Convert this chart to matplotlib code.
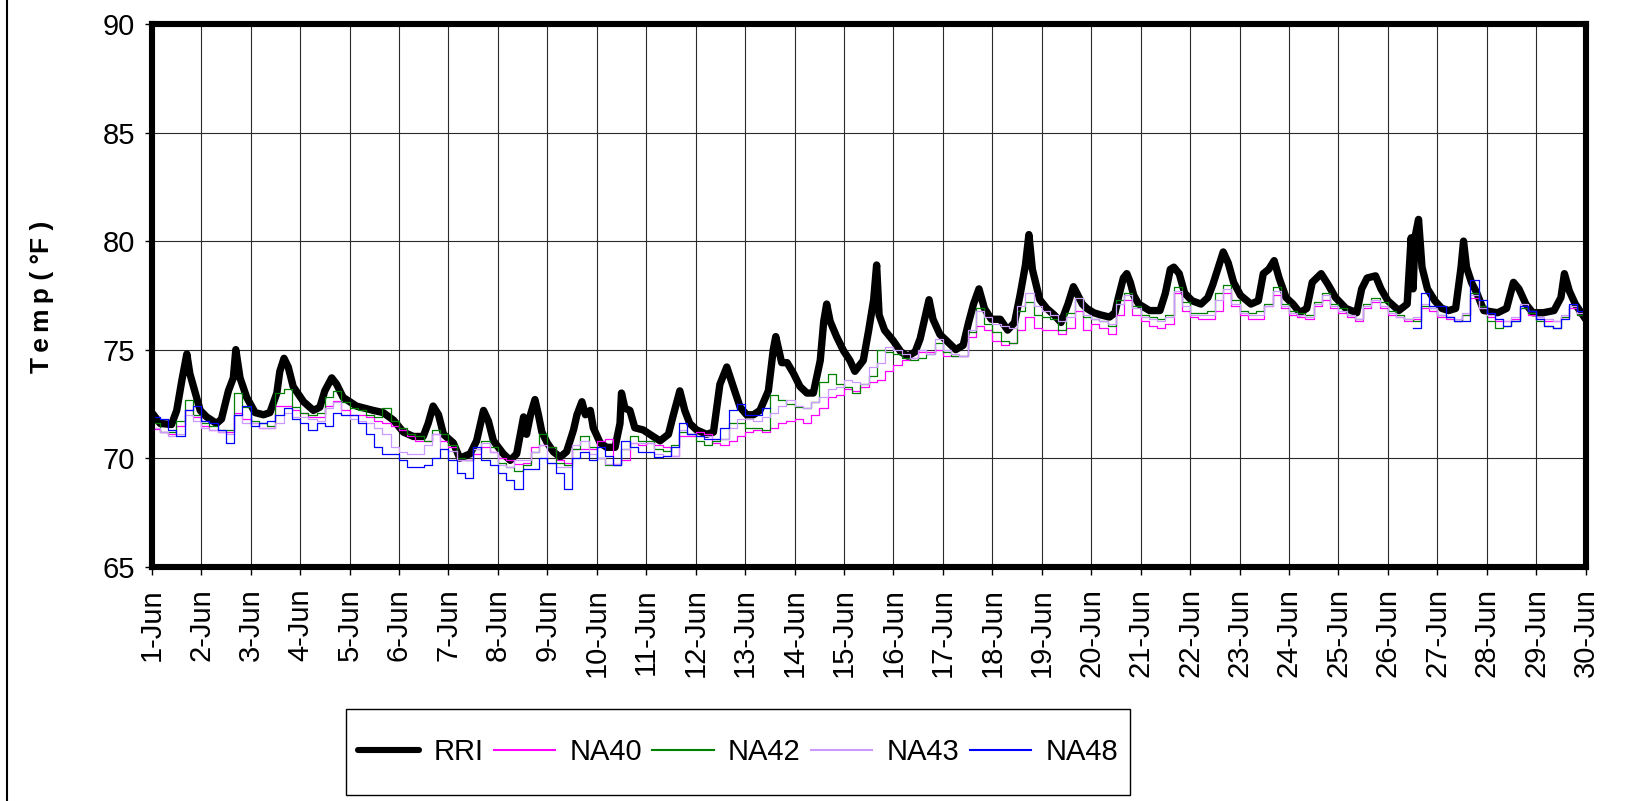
import numpy as np
import matplotlib.pyplot as plt
from matplotlib.lines import Line2D
from matplotlib.patches import Rectangle

plt.rcParams['font.family'] = ['Liberation Sans', 'DejaVu Sans']

# RRI: readings as (day since 1-Jun 00:00, temp F)
rri_day = [0.00, 0.17, 0.40, 0.505, 0.61, 0.71, 0.77, 0.88, 0.98, 1.11, 1.31, 1.41, 1.55, 1.65, 1.70,
           1.785, 1.92, 2.09, 2.26, 2.39, 2.53, 2.59, 2.675, 2.76, 2.86, 3.07, 3.27, 3.40, 3.50, 3.64,
           3.74, 3.87, 4.14, 4.48, 4.68, 4.89, 5.09, 5.29, 5.49, 5.59, 5.69, 5.80, 5.90, 6.10, 6.23,
           6.44, 6.57, 6.71, 6.81, 6.91, 7.11, 7.25, 7.38, 7.52, 7.58, 7.66, 7.75, 7.82, 7.89, 8.00,
           8.12, 8.26, 8.39, 8.53, 8.60, 8.70, 8.77, 8.87, 8.93, 9.07, 9.20, 9.37, 9.47, 9.50, 9.57,
           9.67, 9.77, 9.94, 10.14, 10.28, 10.45, 10.55, 10.68, 10.78, 10.88, 11.02, 11.22, 11.36,
           11.49, 11.63, 11.76, 11.90, 12.03, 12.17, 12.30, 12.47, 12.57, 12.62, 12.74, 12.85, 12.98,
           13.11, 13.25, 13.38, 13.52, 13.59, 13.65, 13.72, 13.85, 13.99, 14.12, 14.22, 14.39, 14.50,
           14.60, 14.66, 14.71, 14.82, 15.00, 15.15, 15.29, 15.44, 15.54, 15.65, 15.72, 15.80, 15.94,
           16.08, 16.26, 16.41, 16.52, 16.62, 16.73, 16.84, 16.98, 17.16, 17.31, 17.45, 17.56, 17.67,
           17.74, 17.81, 17.96, 18.10, 18.25, 18.39, 18.53, 18.64, 18.71, 18.82, 18.91, 19.05, 19.19,
           19.37, 19.48, 19.55, 19.65, 19.72, 19.79, 19.86, 19.96, 20.18, 20.39, 20.50, 20.60, 20.67,
           20.78, 20.89, 21.04, 21.22, 21.36, 21.46, 21.60, 21.67, 21.77, 21.88, 22.02, 22.23, 22.38,
           22.48, 22.59, 22.70, 22.80, 22.94, 23.08, 23.22, 23.36, 23.47, 23.65, 23.79, 23.94, 24.15,
           24.37, 24.47, 24.58, 24.75, 24.86, 25.00, 25.22, 25.39, 25.47, 25.51, 25.55, 25.62, 25.69,
           25.80, 25.95, 26.09, 26.23, 26.37, 26.48, 26.53, 26.59, 26.69, 26.80, 26.94, 27.22, 27.40,
           27.54, 27.65, 27.79, 27.93, 28.14, 28.36, 28.50, 28.57, 28.67, 28.79, 29.00]
rri_temp = [72.1, 71.6, 71.55, 72.2, 73.6, 74.8, 73.9, 73.0, 72.2, 71.9, 71.6, 71.8, 73.1, 73.7, 75.0,
            73.7, 72.8, 72.1, 72.0, 72.1, 73.0, 74.0, 74.6, 74.2, 73.3, 72.6, 72.2, 72.35, 73.1, 73.7,
            73.4, 72.8, 72.4, 72.2, 72.1, 71.75, 71.2, 71.0, 71.0, 71.6, 72.4, 72.0, 71.1, 70.7, 70.0,
            70.2, 70.8, 72.2, 71.7, 70.8, 70.2, 69.9, 70.2, 71.9, 71.1, 72.0, 72.7, 72.0, 71.2, 70.7,
            70.3, 70.05, 70.3, 71.3, 72.0, 72.6, 72.0, 72.2, 71.4, 70.7, 70.5, 70.5, 71.6, 73.0, 72.3,
            72.2, 71.4, 71.3, 71.0, 70.8, 71.1, 72.0, 73.1, 72.2, 71.6, 71.3, 71.1, 71.2,
            73.4, 74.2, 73.3, 72.35, 72.0, 72.0, 72.2, 73.1, 75.0, 75.6, 74.4, 74.4, 73.9,
            73.3, 73.0, 73.0, 74.5, 76.3, 77.1, 76.3, 75.6, 74.95, 74.5, 74.0, 74.5, 75.9,
            77.3, 78.9, 76.6, 75.9, 75.4, 74.9, 74.7, 74.9, 75.5, 76.6, 77.3, 76.4, 75.7,
            75.4, 75.0, 75.2, 76.25, 77.1, 77.8, 76.9, 76.4, 76.4, 75.9, 76.25, 77.5, 78.9,
            80.3, 78.7, 77.3, 76.9, 76.6, 76.25, 77.1, 77.9, 77.6, 77.1, 76.9, 76.7, 76.6,
            76.5, 76.7, 77.4, 78.3, 78.5, 78.1, 77.5, 77.1, 76.8, 76.8, 77.6, 78.7, 78.8,
            78.5, 77.6, 77.25, 77.1, 77.4, 78.0, 79.0, 79.5, 79.0, 78.1, 77.5, 77.1, 77.25,
            78.5, 78.7, 79.1, 78.3, 77.4, 77.1, 76.7, 76.9, 78.1, 78.5, 78.0, 77.4, 76.9,
            76.7, 77.8, 78.3, 78.4, 77.8, 77.25, 76.8, 77.1, 80.15, 77.8, 80.2, 81.0, 78.8,
            77.8, 77.25, 76.9, 76.8, 76.9, 78.8, 80.0, 78.8, 78.1, 77.6, 76.8, 76.7, 76.9,
            78.1, 77.8, 77.1, 76.7, 76.7, 76.8, 77.4, 78.5, 77.7, 77.1, 76.4]

# loggers, one value every 4 hours (six per day) from 1-Jun 00:00 to 30-Jun 00:00
na40 = [71.35, 71.2, 71.1, 71.5, 72.2, 71.9,
        71.5, 71.3, 71.2, 71.2, 72.1, 71.8,
        71.6, 71.4, 71.4, 72.4, 72.4, 72.2,
        72.1, 71.9, 71.9, 72.4, 72.65, 72.2,
        72.0, 72.0, 71.9, 71.7, 71.6, 71.5,
        71.3, 71.0, 70.8, 70.8, 71.1, 70.8,
        70.5, 69.9, 69.9, 70.2, 70.5, 70.3,
        70.0, 69.9, 69.75, 69.8, 70.5, 70.6,
        70.5, 69.9, 69.8, 70.4, 70.4, 70.4,
        70.8, 70.9, 69.75, 69.9, 70.7, 70.6,
        70.7, 70.6, 70.5, 70.1, 71.0, 71.0,
        71.2, 71.1, 70.7, 70.6, 70.8, 71.0,
        71.2, 71.3, 71.2, 71.4, 71.6, 71.7,
        71.8, 71.6, 72.0, 72.3, 72.8, 72.9,
        73.2, 73.1, 73.3, 73.5, 73.6, 74.0,
        74.3, 74.5, 74.6, 74.9, 74.9, 75.0,
        74.7, 74.7, 74.7, 75.6, 76.1, 75.9,
        75.4, 75.2, 75.3, 75.9, 76.5, 76.0,
        75.9, 75.9, 75.7, 76.0, 76.8, 75.9,
        76.2, 76.0, 75.7, 76.6, 77.3, 76.6,
        76.3, 76.1, 76.0, 76.2, 77.6, 76.8,
        76.5, 76.4, 76.4, 76.8, 77.6, 77.0,
        76.6, 76.4, 76.4, 77.0, 77.5, 76.9,
        76.6, 76.5, 76.4, 77.0, 77.3, 76.9,
        76.7, 76.5, 76.3, 76.9, 77.2, 76.9,
        76.6, 76.5, 76.3, 76.4, 76.9, 76.8,
        76.5, 76.4, 76.3, 76.6, 77.4, 76.9,
        76.5, 76.3, 76.3, 76.4, 76.9, 76.6,
        76.4, 76.3, 76.3, 76.5, 76.9, 76.6,
        76.2]

na42 = [71.6, 71.2, 71.2, 71.7, 72.7, 72.0,
        71.6, 71.5, 71.3, 71.3, 73.0, 72.35,
        71.7, 71.6, 71.5, 73.0, 73.2, 72.35,
        72.1, 72.0, 72.1, 72.8, 73.1, 72.6,
        72.3, 72.2, 72.0, 71.9, 72.3, 71.7,
        71.4, 71.1, 71.0, 70.8, 71.3, 71.1,
        70.6, 70.0, 69.9, 70.4, 70.8, 70.5,
        69.8, 69.6, 69.4, 69.7, 70.3, 71.1,
        70.5, 69.8, 69.7, 70.4, 71.0, 70.5,
        70.0, 69.7, 69.7, 70.4, 71.0, 70.8,
        70.8, 70.4, 70.35, 70.6, 71.2, 71.1,
        70.8, 70.6, 70.8, 70.9, 71.6, 71.6,
        71.4, 71.4, 71.3, 72.9, 72.7, 72.5,
        72.35, 72.3, 72.6, 73.5, 73.9, 73.4,
        73.3, 73.0, 73.4, 73.8, 75.0, 74.9,
        74.8, 74.6, 74.5, 74.6, 74.8, 75.3,
        74.9, 74.7, 74.7, 75.8, 76.9, 76.2,
        75.8, 75.4, 75.3, 76.8, 77.2, 76.6,
        76.5, 76.4, 75.9, 76.7, 77.4, 76.5,
        76.4, 76.3, 76.1, 77.3, 77.6, 77.0,
        76.6, 76.5, 76.4, 76.6, 77.9, 77.2,
        76.7, 76.7, 76.8, 77.6, 78.0, 77.3,
        76.8, 76.7, 76.8, 77.1, 77.9, 77.1,
        76.8, 76.7, 76.6, 77.2, 77.6, 77.1,
        76.9, 76.6, 76.4, 77.1, 77.4, 77.2,
        76.8, 76.6, 76.4, 76.3, 77.0, 76.9,
        76.6, 76.5, 76.3, 76.6, 77.6, 77.0,
        76.3, 76.0, 76.1, 76.3, 76.9, 76.7,
        76.3, 76.1, 76.0, 76.5, 77.0, 76.6,
        76.3]

na43 = [71.4, 71.2, 71.0, 71.1, 72.0, 71.7,
        71.4, 71.3, 71.2, 71.1, 72.0, 71.6,
        71.6, 71.4, 71.4, 71.6, 72.1, 71.9,
        71.9, 71.8, 71.7, 72.3, 72.6, 72.0,
        71.8, 71.7, 71.6, 71.4, 71.1, 70.5,
        70.3, 70.2, 70.2, 70.6, 71.1, 70.4,
        70.35, 69.9, 69.9, 70.4, 70.7, 70.3,
        69.7, 69.6, 69.9, 69.9, 70.3, 70.6,
        69.8, 69.6, 69.6, 70.6, 70.8, 70.2,
        70.0, 69.75, 69.75, 70.4, 70.7, 70.7,
        70.7, 70.2, 70.1, 70.1, 71.3, 71.1,
        71.0, 71.0, 70.9, 70.9, 71.4, 71.8,
        71.8, 71.7, 71.9, 72.1, 72.4, 72.7,
        72.4, 72.3, 72.6, 72.8, 73.2, 73.3,
        73.6, 73.5, 73.4, 74.2, 74.4, 75.1,
        75.0, 74.8, 74.6, 75.0, 74.8, 75.5,
        75.0, 74.8, 74.7, 75.9, 76.8, 76.5,
        76.2, 76.1, 76.0, 77.0, 77.6, 77.0,
        76.8, 76.6, 76.3, 76.5, 77.4, 76.6,
        76.4, 76.3, 76.2, 77.1, 77.5, 76.9,
        76.5, 76.4, 76.3, 76.5, 77.7, 77.0,
        76.6, 76.6, 76.6, 77.3, 77.8, 77.1,
        76.7, 76.6, 76.6, 77.0, 77.7, 77.0,
        76.7, 76.6, 76.5, 77.1, 77.5, 77.0,
        76.8, 76.6, 76.4, 77.0, 77.3, 77.0,
        76.7, 76.5, 76.4, 76.5, 77.1, 76.9,
        76.6, 76.5, 76.4, 76.7, 77.5, 76.9,
        76.6, 76.4, 76.3, 76.5, 77.1, 76.8,
        76.5, 76.4, 76.3, 76.6, 77.0, 76.7,
        76.3]

nan = np.nan
na48 = [71.9, 71.8, 71.3, 71.0, 72.2, 72.4,
        71.7, 71.6, 71.3, 70.7, 72.0, 72.4,
        71.5, 71.6, 71.7, 72.0, 72.3, 71.8,
        71.6, 71.3, 71.6, 71.5, 72.1, 72.0,
        72.0, 71.6, 71.1, 70.5, 70.2, 70.2,
        69.9, 69.6, 69.6, 69.7, 70.0, 70.4,
        69.9, 69.3, 69.1, 70.5, 69.9, 69.7,
        69.3, 69.0, 68.6, 69.5, 69.5, 70.0,
        69.8, 69.3, 68.6, 70.0, 70.3, 69.9,
        70.5, 70.1, 69.7, 70.8, 70.5, 70.3,
        70.3, 70.05, 70.1, 70.5, 71.6, 71.1,
        71.0, 70.9, 70.9, 71.4, 72.2, 72.5,
        72.0, 72.0, 72.3, nan, nan, nan] + [nan] * 72 + [
        nan, nan, nan, 76.0, 77.6, 77.0,
        77.0, 76.5, 76.3, 76.3, 78.2, 77.3,
        76.7, 76.4, 76.1, 76.3, 77.0, 76.8,
        76.4, 76.1, 76.0, 76.4, 77.1, 76.8,
        76.4]

series = [("NA40", na40, "#ff00ff"), ("NA42", na42, "#008000"),
          ("NA43", na43, "#cc99ff"), ("NA48", na48, "#0000ff")]
day_labels = [f"{d}-Jun" for d in range(1, 31)]

fig = plt.figure(figsize=(16.3, 8.01), dpi=100)
ax = fig.add_axes([0.0931, 0.2925, 0.8797, 0.6775])

ax.plot(rri_day, rri_temp, color="black", lw=5.3, solid_joinstyle="round",
        solid_capstyle="round", label="RRI", zorder=3)
for name, vals, col in series:
    t = np.arange(len(vals)) / 6.0
    ax.plot(t, vals, drawstyle="steps-post", color=col, lw=0.9, label=name, zorder=4)

ax.set_xlim(0, 29)
ax.set_ylim(65, 90)
ax.set_xticks(range(30))
ax.set_xticklabels(day_labels, rotation=90, fontsize=21)
ax.set_yticks(range(65, 91, 5))
ax.tick_params(axis="y", labelsize=21, length=5, width=1, pad=7)
ax.tick_params(axis="x", length=5.5, width=1, pad=10)
ax.grid(True, color="#2a2a2a", lw=0.8)
ax.set_axisbelow(True)
for sp in ax.spines.values():
    sp.set_linewidth(4.4)
    sp.set_zorder(5)

fig.text(42 / 1630, 1 - 297 / 801, "T\u2009e\u2009m\u2009p ( \u00b0F )", rotation=90,
         fontsize=19, fontweight="bold", ha="center", va="center",
         family=["Liberation Sans", "DejaVu Sans"])

# legend frame drawn on its own: wide box, little side padding, tall top/bottom
fig.add_artist(Rectangle((346 / 1630, 1 - 795 / 801), 784 / 1630, 86 / 801,
                         transform=fig.transFigure, facecolor="white",
                         edgecolor="black", lw=1.0, zorder=1))
handles = [Line2D([], [], color="black", lw=4.4, solid_capstyle="round")]
handles += [Line2D([], [], color=c, lw=1.5) for _, _, c in series]
leg = fig.legend(handles, ["RRI"] + [s[0] for s in series], loc="center",
                 bbox_to_anchor=(738 / 1630, 1 - 752 / 801),
                 ncol=5, fontsize=21, frameon=False,
                 handlelength=2.1, columnspacing=0.35, handletextpad=0.5,
                 borderpad=0.2)
leg.set_zorder(6)

# chart area border on the left
fig.add_artist(Line2D([7 / 1630, 7 / 1630], [0, 1], color="black", lw=1.5))

fig.savefig("out.png", dpi=100)
